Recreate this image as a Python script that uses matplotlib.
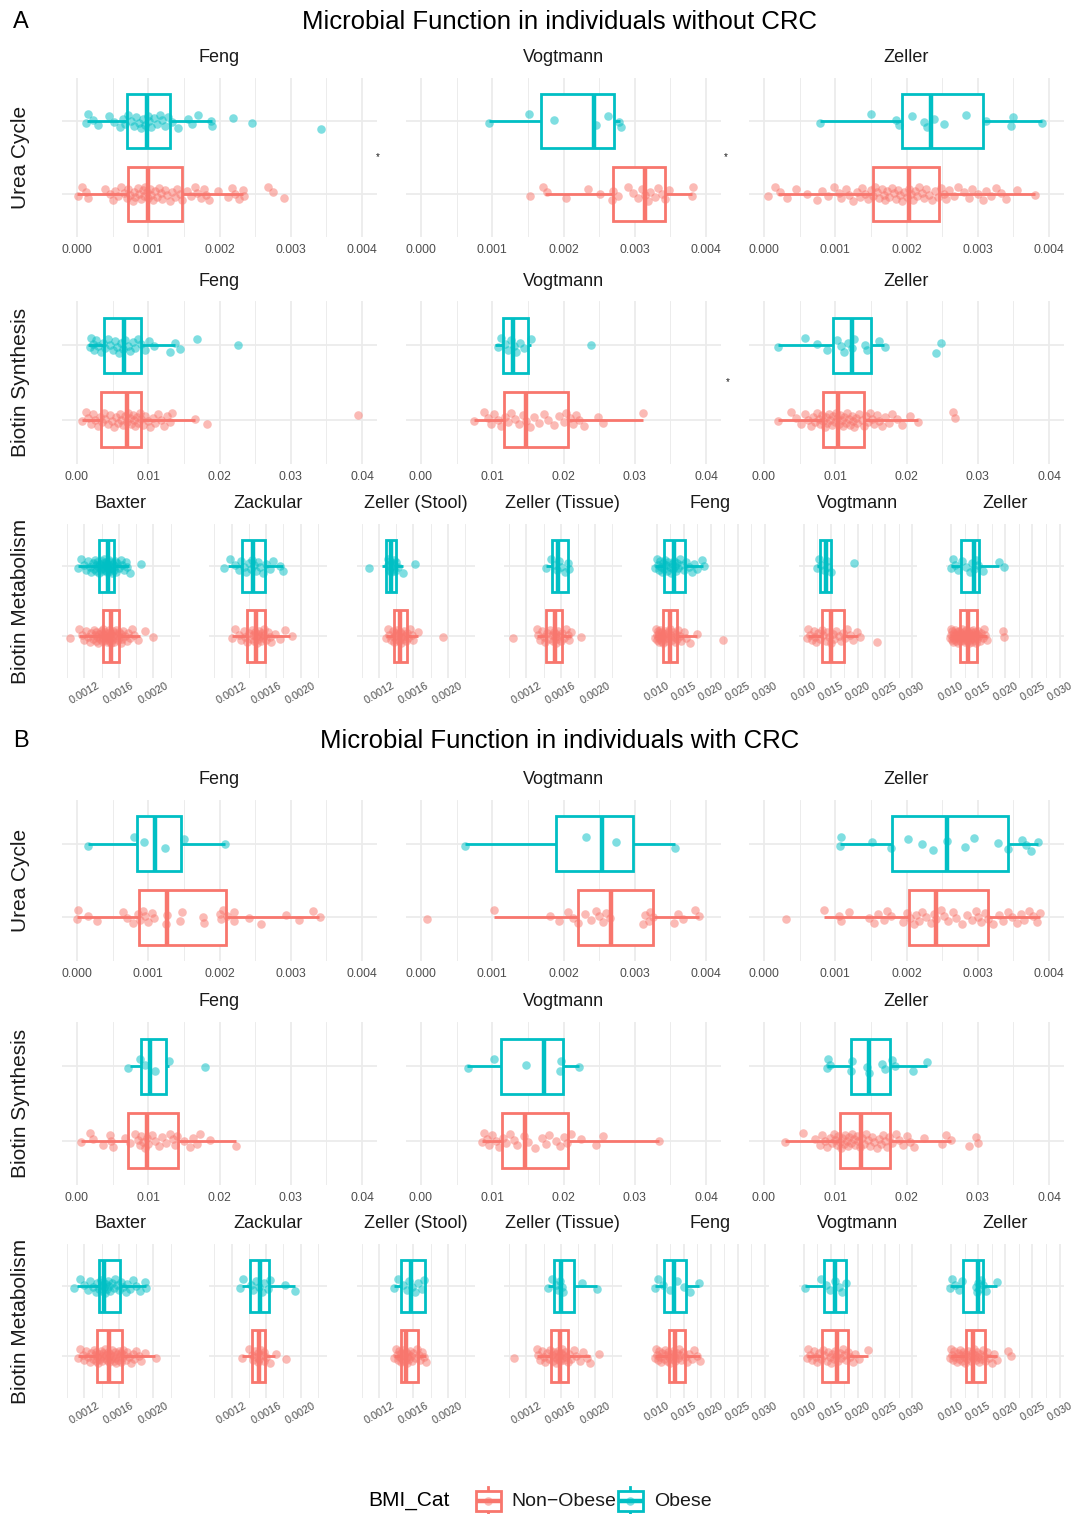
import numpy as np
import matplotlib
matplotlib.use("Agg")
import matplotlib.pyplot as plt
from matplotlib.patches import Rectangle
from matplotlib.lines import Line2D

plt.rcParams['font.family'] = ['Liberation Sans', 'DejaVu Sans']

RED = '#F8766D'
TEAL = '#00BFC4'
GRID = '#EBEBEB'
TICKC = '#4D4D4D'
TXT = '#1A1A1A'

# ---------------- labels / categories ----------------
PANEL_TITLES = ['Microbial Function in individuals without CRC',
                'Microbial Function in individuals with CRC']
PANEL_TAGS = ['A', 'B']
ROW_NAMES = ['Urea Cycle', 'Biotin Synthesis', 'Biotin Metabolism']
FACETS_3 = ['Feng', 'Vogtmann', 'Zeller']
FACETS_7 = ['Baxter', 'Zackular', 'Zeller (Stool)', 'Zeller (Tissue)', 'Feng', 'Vogtmann', 'Zeller']
GROUPS = ['Non\u2212Obese', 'Obese']
LEGEND_TITLE = 'BMI_Cat'

UREA_TICKS = [0.000, 0.001, 0.002, 0.003, 0.004]
UREA_LABELS = ['0.000', '0.001', '0.002', '0.003', '0.004']
BS_TICKS = [0.00, 0.01, 0.02, 0.03, 0.04]
BS_LABELS = ['0.00', '0.01', '0.02', '0.03', '0.04']
BM_L_TICKS = [0.0012, 0.0016, 0.0020]
BM_L_LABELS = ['0.0012', '0.0016', '0.0020']
BM_R_TICKS = [0.010, 0.015, 0.020, 0.025, 0.030]
BM_R_LABELS = ['0.010', '0.015', '0.020', '0.025', '0.030']

# ---------------- data: box stats [whislo, q1, median, q3, whishi] + points ----------------
# ===== A: without CRC =====
# Urea cycle
A_UC_FENG_OB = [0.00013, 0.00016, 0.00022, 0.0003, 0.00045, 0.00052, 0.0006, 0.00064, 0.00068, 0.00072, 0.00076,
                0.0008, 0.00083, 0.00087, 0.0009, 0.00093, 0.00096, 0.00099, 0.00101, 0.00104, 0.00108, 0.00112,
                0.00116, 0.0012, 0.00124, 0.00128, 0.00134, 0.00142, 0.00156, 0.00162, 0.0017, 0.00188, 0.0019,
                0.00219, 0.00245, 0.00343]
A_UC_FENG_OB_BOX = [0.000145, 0.000696, 0.000986, 0.0013, 0.00189]
A_UC_FENG_NO = [0.00002, 0.00007, 0.00012, 0.00016, 0.0004, 0.00046, 0.0005, 0.00054, 0.00058, 0.00062, 0.00066,
                0.0007, 0.00072, 0.00075, 0.00078, 0.0008, 0.00082, 0.00085, 0.00087, 0.0009, 0.00092, 0.00094,
                0.00096, 0.00098, 0.001, 0.00102, 0.00104, 0.00106, 0.00109, 0.00112, 0.00115, 0.00118, 0.0012,
                0.00123, 0.00126, 0.0013, 0.00133, 0.00137, 0.0014, 0.00144, 0.00148, 0.00155, 0.0016, 0.00165,
                0.00169, 0.00174, 0.00178, 0.00181, 0.00185, 0.00198, 0.00212, 0.00217, 0.00222, 0.00228, 0.00233,
                0.00234, 0.00268, 0.00275, 0.0029]
A_UC_FENG_NO_BOX = [0.0, 0.00072, 0.001, 0.00148, 0.00233]
A_UC_VOGT_OB = [0.00095, 0.00151, 0.00186, 0.00245, 0.00263, 0.00278, 0.0028]
A_UC_VOGT_OB_BOX = [0.00095, 0.00168, 0.00243, 0.00271, 0.00279]
A_UC_VOGT_NO = [0.00153, 0.00171, 0.00177, 0.00203, 0.00235, 0.00251, 0.00268, 0.0027, 0.00276, 0.0029, 0.00298,
                0.00304, 0.0031, 0.00314, 0.00318, 0.00322, 0.00328, 0.00333, 0.00338, 0.00343, 0.00348, 0.0038,
                0.00382]
A_UC_VOGT_NO_BOX = [0.00174, 0.00269, 0.00314, 0.00342, 0.00381]
A_UC_ZELL_OB = [0.00078, 0.0015, 0.00185, 0.0019, 0.00208, 0.00225, 0.00229, 0.00238, 0.00253, 0.00284, 0.00312,
                0.00346, 0.00349, 0.0039]
A_UC_ZELL_OB_BOX = [0.00078, 0.00193, 0.00235, 0.00307, 0.0039]
A_UC_ZELL_NO = [0.00005, 0.00015, 0.00022, 0.00032, 0.00045, 0.0006, 0.00075, 0.00082, 0.0009, 0.00098, 0.00105,
                0.00108, 0.00115, 0.0012, 0.00125, 0.0013, 0.00135, 0.00138, 0.00142, 0.00146, 0.0015, 0.00153,
                0.00156, 0.00159, 0.00162, 0.00165, 0.00168, 0.0017, 0.00173, 0.00176, 0.00179, 0.00182, 0.00185,
                0.00188, 0.00191, 0.00194, 0.00197, 0.002, 0.00203, 0.00206, 0.00209, 0.00212, 0.00215, 0.00218,
                0.00222, 0.00225, 0.00228, 0.00232, 0.00236, 0.0024, 0.00244, 0.00248, 0.00252, 0.00256, 0.0026,
                0.00266, 0.00272, 0.0028, 0.00287, 0.00292, 0.003, 0.00308, 0.00312, 0.00318, 0.00325, 0.00332,
                0.0034, 0.00355, 0.0038]
A_UC_ZELL_NO_BOX = [0.0002, 0.00153, 0.00203, 0.00246, 0.00381]

# Biotin synthesis
A_BS_FENG_OB = [0.0018, 0.002, 0.0022, 0.0024, 0.0027, 0.003, 0.0034, 0.0037, 0.004, 0.0043, 0.0047, 0.005, 0.0053,
                0.0056, 0.0059, 0.0062, 0.0065, 0.0068, 0.0071, 0.0074, 0.0078, 0.0082, 0.0086, 0.009, 0.0095,
                0.0101, 0.0108, 0.013, 0.0138, 0.0145, 0.0168, 0.0226]
A_BS_FENG_OB_BOX = [0.0016, 0.00375, 0.00654, 0.00904, 0.0138]
A_BS_FENG_NO = [0.0007, 0.0012, 0.0016, 0.002, 0.0023, 0.0026, 0.0029, 0.0032, 0.0035, 0.0038, 0.004, 0.0043,
                0.0046, 0.0049, 0.0052, 0.0055, 0.0058, 0.006, 0.0062, 0.0065, 0.0068, 0.007, 0.0072, 0.0074,
                0.0076, 0.0078, 0.008, 0.0082, 0.0084, 0.0086, 0.0088, 0.009, 0.0093, 0.0096, 0.0099, 0.0103,
                0.0107, 0.011, 0.0114, 0.0118, 0.0122, 0.0127, 0.013, 0.0133, 0.0166, 0.0183, 0.0394]
A_BS_FENG_NO_BOX = [0.0007, 0.00337, 0.00702, 0.00904, 0.0166]
A_BS_VOGT_OB = [0.0108, 0.0113, 0.0118, 0.0122, 0.0126, 0.013, 0.0134, 0.0139, 0.0145, 0.0155, 0.0238]
A_BS_VOGT_OB_BOX = [0.0104, 0.01154, 0.01288, 0.01505, 0.0155]
A_BS_VOGT_NO = [0.0075, 0.0088, 0.0094, 0.0098, 0.0103, 0.0108, 0.0113, 0.0118, 0.0122, 0.0127, 0.0132, 0.0138,
                0.0143, 0.0148, 0.0153, 0.0158, 0.0165, 0.0172, 0.0178, 0.0186, 0.0194, 0.02, 0.0204, 0.0209,
                0.0213, 0.0218, 0.0222, 0.0229, 0.0249, 0.0256, 0.0311]
A_BS_VOGT_NO_BOX = [0.0075, 0.01168, 0.0148, 0.0207, 0.0311]
A_BS_ZELL_OB = [0.002, 0.0058, 0.0075, 0.0088, 0.0103, 0.0108, 0.0113, 0.0118, 0.0123, 0.0126, 0.0142, 0.0145,
                0.0162, 0.017, 0.0241, 0.0248]
A_BS_ZELL_OB_BOX = [0.002, 0.00972, 0.01231, 0.01495, 0.0169]
A_BS_ZELL_NO = [0.002, 0.0038, 0.0045, 0.0052, 0.0058, 0.0062, 0.0066, 0.0069, 0.0072, 0.0075, 0.0077, 0.0079,
                0.0081, 0.0083, 0.0085, 0.0087, 0.0089, 0.0091, 0.0093, 0.0095, 0.0097, 0.0099, 0.0101, 0.0103,
                0.0105, 0.0107, 0.0109, 0.0111, 0.0113, 0.0115, 0.0117, 0.0119, 0.0121, 0.0123, 0.0125, 0.0127,
                0.0129, 0.0131, 0.0134, 0.0137, 0.014, 0.0143, 0.0146, 0.0149, 0.0152, 0.0155, 0.0158, 0.0162,
                0.0166, 0.017, 0.0175, 0.018, 0.0186, 0.0193, 0.0205, 0.0216, 0.0265, 0.0268]
A_BS_ZELL_NO_BOX = [0.002, 0.00829, 0.01044, 0.014, 0.0216]

# Biotin metabolism
A_BM_BAXT_OB = [0.00112, 0.00116, 0.0012, 0.00122, 0.00124, 0.00126, 0.00128, 0.0013, 0.00131, 0.00132, 0.00133,
                0.00134, 0.00135, 0.00136, 0.00137, 0.00138, 0.00139, 0.0014, 0.0014, 0.00141, 0.00142, 0.00142,
                0.00143, 0.00144, 0.00144, 0.00145, 0.00146, 0.00146, 0.00147, 0.00148, 0.00148, 0.00149, 0.0015,
                0.0015, 0.00151, 0.00152, 0.00153, 0.00154, 0.00155, 0.00156, 0.00157, 0.00158, 0.0016, 0.00162,
                0.00164, 0.00166, 0.00168, 0.0017, 0.00173, 0.00186]
A_BM_BAXT_OB_BOX = [0.00112, 0.00137, 0.00147, 0.00154, 0.00172]
A_BM_BAXT_NO = [0.00103, 0.00114, 0.00117, 0.0012, 0.00122, 0.00124, 0.00126, 0.00128, 0.0013, 0.00131, 0.00132,
                0.00133, 0.00134, 0.00135, 0.00136, 0.00137, 0.00138, 0.00139, 0.0014, 0.0014, 0.00141, 0.00142,
                0.00142, 0.00143, 0.00144, 0.00144, 0.00145, 0.00146, 0.00146, 0.00147, 0.00148, 0.00148, 0.00149,
                0.0015, 0.0015, 0.00151, 0.00151, 0.00152, 0.00153, 0.00153, 0.00154, 0.00155, 0.00156, 0.00157,
                0.00158, 0.00159, 0.0016, 0.00161, 0.00162, 0.00163, 0.00164, 0.00165, 0.00167, 0.00169, 0.00171,
                0.00173, 0.00175, 0.00178, 0.00182, 0.0019, 0.002]
A_BM_BAXT_NO_BOX = [0.00114, 0.00142, 0.00151, 0.0016, 0.00184]
A_BM_ZACK_OB = [0.00111, 0.00118, 0.00124, 0.00128, 0.00131, 0.00134, 0.00137, 0.0014, 0.00142, 0.00144, 0.00146,
                0.00148, 0.0015, 0.00153, 0.00156, 0.0016, 0.00164, 0.00168, 0.00176, 0.0018]
A_BM_ZACK_OB_BOX = [0.00116, 0.00132, 0.00145, 0.00159, 0.0018]
A_BM_ZACK_NO = [0.0012, 0.00124, 0.00128, 0.00131, 0.00134, 0.00136, 0.00138, 0.0014, 0.00142, 0.00144, 0.00145,
                0.00146, 0.00147, 0.00148, 0.00149, 0.0015, 0.00151, 0.00152, 0.00153, 0.00154, 0.00155, 0.00156,
                0.00157, 0.00158, 0.0016, 0.00162, 0.00164, 0.00166, 0.0017, 0.00176, 0.00182, 0.0019]
A_BM_ZACK_NO_BOX = [0.0012, 0.00138, 0.00148, 0.00159, 0.00188]
A_BM_ZSTO_OB = [0.00108, 0.0013, 0.00131, 0.00132, 0.00133, 0.00134, 0.00134, 0.00135, 0.00136, 0.00137, 0.00138,
                0.00139, 0.0014, 0.00142, 0.00148, 0.00162]
A_BM_ZSTO_OB_BOX = [0.00124, 0.00128, 0.00134, 0.0014, 0.00148]
A_BM_ZSTO_NO = [0.00128, 0.0013, 0.00132, 0.00134, 0.00136, 0.00137, 0.00138, 0.00139, 0.0014, 0.00141, 0.00142,
                0.00143, 0.00144, 0.00145, 0.00146, 0.00147, 0.00148, 0.00149, 0.0015, 0.00151, 0.00152, 0.00154,
                0.00156, 0.00158, 0.0016, 0.00165, 0.00194]
A_BM_ZSTO_NO_BOX = [0.00128, 0.00138, 0.00144, 0.00153, 0.00165]
A_BM_ZTIS_OB = [0.00143, 0.00149, 0.00153, 0.00156, 0.00158, 0.0016, 0.00165, 0.00168, 0.0017]
A_BM_ZTIS_OB_BOX = [0.00143, 0.0015, 0.00157, 0.00169, 0.0017]
A_BM_ZTIS_NO = [0.00104, 0.00132, 0.00134, 0.00136, 0.00138, 0.0014, 0.00142, 0.00144, 0.00146, 0.00148, 0.0015,
                0.00151, 0.00152, 0.00153, 0.00154, 0.00155, 0.00156, 0.00157, 0.00158, 0.0016, 0.00162, 0.00164,
                0.00166, 0.00168, 0.0017, 0.00172, 0.00183]
A_BM_ZTIS_NO_BOX = [0.00132, 0.00143, 0.00153, 0.00161, 0.00172]
A_BM_FENG_OB = [0.0098, 0.01, 0.0102, 0.0104, 0.0106, 0.0108, 0.011, 0.0112, 0.0114, 0.0116, 0.0118, 0.012, 0.0122,
                0.0124, 0.0126, 0.0128, 0.013, 0.0132, 0.0134, 0.0136, 0.0138, 0.014, 0.0143, 0.0146, 0.015, 0.0155,
                0.016, 0.0165, 0.017, 0.0175, 0.0184, 0.0188]
A_BM_FENG_OB_BOX = [0.0098, 0.0114, 0.0133, 0.0152, 0.0186]
A_BM_FENG_NO = [0.0098, 0.0099, 0.01, 0.0101, 0.0102, 0.0103, 0.0104, 0.0105, 0.0106, 0.0107, 0.0108, 0.0109,
                0.011, 0.0111, 0.0112, 0.0113, 0.0114, 0.0115, 0.0116, 0.0118, 0.012, 0.0122, 0.0124, 0.0126,
                0.0128, 0.013, 0.0132, 0.0134, 0.0136, 0.0138, 0.014, 0.0143, 0.0146, 0.015, 0.0155, 0.0162,
                0.0175, 0.0222]
A_BM_FENG_NO_BOX = [0.0098, 0.0112, 0.0124, 0.0138, 0.0175]
A_BM_VOGT_OB = [0.0125, 0.0128, 0.0132, 0.0138, 0.0142, 0.0145, 0.015, 0.0192]
A_BM_VOGT_OB_BOX = [0.0125, 0.013, 0.0141, 0.0151, 0.0151]
A_BM_VOGT_NO = [0.0105, 0.0108, 0.0112, 0.0115, 0.0118, 0.012, 0.0123, 0.0127, 0.013, 0.0133, 0.0136, 0.014,
                0.0143, 0.0146, 0.015, 0.0153, 0.0156, 0.016, 0.0164, 0.0168, 0.0172, 0.0176, 0.018, 0.0185,
                0.019, 0.0198, 0.0203, 0.0235]
A_BM_VOGT_NO_BOX = [0.0107, 0.0134, 0.0151, 0.0174, 0.02]
A_BM_ZELL_OB = [0.01, 0.0104, 0.0108, 0.0112, 0.012, 0.0128, 0.0134, 0.0139, 0.0143, 0.0146, 0.015, 0.0158,
                0.0189, 0.0197]
A_BM_ZELL_OB_BOX = [0.01, 0.0118, 0.0143, 0.0151, 0.0189]
A_BM_ZELL_NO = [0.0098, 0.0099, 0.01, 0.0101, 0.0102, 0.0103, 0.0104, 0.0105, 0.0106, 0.0107, 0.0108, 0.0109,
                0.011, 0.0111, 0.0112, 0.0113, 0.0114, 0.0115, 0.0116, 0.0117, 0.0118, 0.0119, 0.012, 0.0121,
                0.0122, 0.0123, 0.0124, 0.0125, 0.0126, 0.0127, 0.0128, 0.0129, 0.013, 0.0131, 0.0132, 0.0133,
                0.0134, 0.0135, 0.0136, 0.0137, 0.0138, 0.0139, 0.014, 0.0141, 0.0142, 0.0143, 0.0144, 0.0145,
                0.0146, 0.0147, 0.0148, 0.015, 0.0152, 0.0154, 0.0156, 0.0158, 0.016, 0.0163, 0.0166, 0.0195,
                0.0198]
A_BM_ZELL_NO_BOX = [0.0098, 0.0116, 0.0131, 0.0148, 0.0166]

# ===== B: with CRC =====
B_UC_FENG_OB = [0.00016, 0.0008, 0.00094, 0.00123, 0.0015, 0.00208]
B_UC_FENG_OB_BOX = [0.00016, 0.00084, 0.00109, 0.00146, 0.00208]
B_UC_FENG_NO = [0.0, 0.00002, 0.00015, 0.00028, 0.00065, 0.0007, 0.00078, 0.00085, 0.00088, 0.00092, 0.00095,
                0.001, 0.00105, 0.00108, 0.00125, 0.00127, 0.00145, 0.00147, 0.00177, 0.00178, 0.002, 0.00202,
                0.00205, 0.0021, 0.0022, 0.00221, 0.00242, 0.00258, 0.00293, 0.00311, 0.00331, 0.00341]
B_UC_FENG_NO_BOX = [0.0, 0.00087, 0.00126, 0.00209, 0.0034]
B_UC_VOGT_OB = [0.00062, 0.00232, 0.00274, 0.00356]
B_UC_VOGT_OB_BOX = [0.00062, 0.0019, 0.00254, 0.00297, 0.00357]
B_UC_VOGT_NO = [0.00009, 0.00103, 0.00181, 0.00193, 0.00207, 0.00213, 0.0022, 0.0023, 0.00238, 0.00245, 0.0025,
                0.00256, 0.0026, 0.00265, 0.00311, 0.00315, 0.0032, 0.00322, 0.00325, 0.00355, 0.0036, 0.00368,
                0.00385, 0.0039]
B_UC_VOGT_NO_BOX = [0.00103, 0.0022, 0.00266, 0.00325, 0.0039]
B_UC_ZELL_OB = [0.00107, 0.00108, 0.00151, 0.00178, 0.00202, 0.00222, 0.00237, 0.00257, 0.00282, 0.00295, 0.00328,
                0.00342, 0.00362, 0.00368, 0.00375, 0.00385]
B_UC_ZELL_OB_BOX = [0.00107, 0.00179, 0.00257, 0.00342, 0.00385]
B_UC_ZELL_NO = [0.00031, 0.00084, 0.00105, 0.00108, 0.0012, 0.00148, 0.00155, 0.0016, 0.00168, 0.00172, 0.00178,
                0.00195, 0.002, 0.00205, 0.0021, 0.00213, 0.00218, 0.00222, 0.00228, 0.00235, 0.00238, 0.00242,
                0.00248, 0.00253, 0.00258, 0.00265, 0.0027, 0.00278, 0.00285, 0.00292, 0.00298, 0.003, 0.00305,
                0.0031, 0.00315, 0.00322, 0.0033, 0.00335, 0.00342, 0.00348, 0.00355, 0.0036, 0.00365, 0.00372,
                0.00378, 0.00383, 0.00388]
B_UC_ZELL_NO_BOX = [0.00084, 0.00203, 0.00242, 0.00315, 0.00388]

B_BS_FENG_OB = [0.0072, 0.0088, 0.0095, 0.011, 0.0129, 0.0179]
B_BS_FENG_OB_BOX = [0.0074, 0.00894, 0.01024, 0.0125, 0.0129]
B_BS_FENG_NO = [0.0006, 0.0018, 0.0023, 0.0036, 0.0046, 0.0048, 0.005, 0.0068, 0.0075, 0.0082, 0.0085, 0.0088,
                0.009, 0.0093, 0.0095, 0.0098, 0.01, 0.0105, 0.011, 0.0115, 0.012, 0.0125, 0.013, 0.0135, 0.0138,
                0.014, 0.015, 0.0158, 0.0163, 0.0168, 0.0172, 0.0187, 0.0223]
B_BS_FENG_NO_BOX = [0.0006, 0.0072, 0.00986, 0.01423, 0.0223]
B_BS_VOGT_OB = [0.0066, 0.0102, 0.0148, 0.0195, 0.0197, 0.0222]
B_BS_VOGT_OB_BOX = [0.0064, 0.0112, 0.0172, 0.0199, 0.0222]
B_BS_VOGT_NO = [0.0085, 0.0088, 0.0092, 0.0095, 0.01, 0.0105, 0.011, 0.0115, 0.012, 0.0125, 0.013, 0.0135,
                0.0145, 0.015, 0.016, 0.017, 0.0175, 0.018, 0.019, 0.0195, 0.02, 0.0205, 0.021, 0.0225, 0.0245,
                0.0255, 0.0334]
B_BS_VOGT_NO_BOX = [0.0085, 0.01135, 0.01466, 0.0206, 0.0334]
B_BS_ZELL_OB = [0.0088, 0.009, 0.0092, 0.0122, 0.0124, 0.0145, 0.0148, 0.0165, 0.017, 0.018, 0.0184, 0.0209,
                0.0229]
B_BS_ZELL_OB_BOX = [0.0089, 0.01226, 0.01476, 0.01764, 0.0229]
B_BS_ZELL_NO = [0.0029, 0.0055, 0.0072, 0.0078, 0.0082, 0.0086, 0.0089, 0.0092, 0.0095, 0.0098, 0.01, 0.0102,
                0.0104, 0.0106, 0.0108, 0.011, 0.0112, 0.0114, 0.0116, 0.0118, 0.012, 0.0122, 0.0124, 0.0126,
                0.0128, 0.013, 0.0132, 0.0135, 0.0138, 0.014, 0.0143, 0.0146, 0.0149, 0.0152, 0.0155, 0.0158,
                0.0161, 0.0164, 0.0167, 0.017, 0.0173, 0.0176, 0.018, 0.0185, 0.019, 0.0195, 0.02, 0.0205, 0.021,
                0.0225, 0.025, 0.0255, 0.0262, 0.0287, 0.0298, 0.0301]
B_BS_ZELL_NO_BOX = [0.0029, 0.0107, 0.01357, 0.01764, 0.0262]

B_BM_BAXT_OB = [0.00108, 0.00115, 0.0012, 0.00124, 0.00127, 0.0013, 0.00133, 0.00135, 0.00137, 0.00139, 0.0014,
                0.00141, 0.00142, 0.00143, 0.00144, 0.00145, 0.00146, 0.00147, 0.00148, 0.0015, 0.00152, 0.00154,
                0.00156, 0.00158, 0.0016, 0.00162, 0.00165, 0.00168, 0.0017, 0.00173, 0.00176, 0.0018, 0.00185,
                0.0019, 0.00192]
B_BM_BAXT_OB_BOX = [0.00111, 0.00137, 0.00143, 0.00161, 0.00192]
B_BM_BAXT_NO = [0.00112, 0.00115, 0.00118, 0.0012, 0.00122, 0.00124, 0.00126, 0.00128, 0.0013, 0.00131, 0.00132,
                0.00133, 0.00134, 0.00135, 0.00136, 0.00137, 0.00138, 0.00139, 0.0014, 0.00141, 0.00142, 0.00143,
                0.00144, 0.00145, 0.00146, 0.00147, 0.00148, 0.00149, 0.0015, 0.00151, 0.00152, 0.00153, 0.00154,
                0.00155, 0.00156, 0.00157, 0.00158, 0.00159, 0.0016, 0.00161, 0.00162, 0.00163, 0.00164, 0.00165,
                0.00166, 0.00168, 0.0017, 0.00172, 0.00174, 0.00176, 0.00178, 0.0018, 0.00183, 0.00186, 0.0019,
                0.00203]
B_BM_BAXT_NO_BOX = [0.00112, 0.00135, 0.00149, 0.00164, 0.00202]
B_BM_ZACK_OB = [0.0013, 0.00133, 0.00142, 0.00145, 0.00148, 0.00152, 0.00155, 0.00158, 0.00162, 0.00165, 0.00182,
                0.00193]
B_BM_ZACK_OB_BOX = [0.00132, 0.00141, 0.00153, 0.00163, 0.00193]
B_BM_ZACK_NO = [0.00132, 0.0014, 0.00143, 0.00145, 0.00147, 0.00148, 0.0015, 0.00151, 0.00152, 0.00154, 0.00155,
                0.00157, 0.00158, 0.0016, 0.00164, 0.00172, 0.00183]
B_BM_ZACK_NO_BOX = [0.00132, 0.00144, 0.00152, 0.00159, 0.0017]
B_BM_ZSTO_OB = [0.00138, 0.00142, 0.00148, 0.00152, 0.00155, 0.00158, 0.00162, 0.00165, 0.0017, 0.00172]
B_BM_ZSTO_OB_BOX = [0.00138, 0.00146, 0.00157, 0.00173, 0.00173]
B_BM_ZSTO_NO = [0.00138, 0.0014, 0.00141, 0.00142, 0.00143, 0.00144, 0.00145, 0.00146, 0.00147, 0.00148, 0.00149,
                0.0015, 0.00151, 0.00152, 0.00153, 0.00154, 0.00155, 0.00156, 0.00157, 0.00158, 0.0016, 0.00162,
                0.00164, 0.00166, 0.00168, 0.0017, 0.00172, 0.00175]
B_BM_ZSTO_NO_BOX = [0.00138, 0.00145, 0.00151, 0.00165, 0.00175]
B_BM_ZTIS_OB = [0.00145, 0.0015, 0.00154, 0.00157, 0.00159, 0.00161, 0.00163, 0.00185, 0.00202]
B_BM_ZTIS_OB_BOX = [0.00145, 0.00152, 0.0016, 0.00175, 0.00202]
B_BM_ZTIS_NO = [0.00106, 0.00132, 0.00134, 0.00136, 0.00138, 0.0014, 0.00142, 0.00144, 0.00146, 0.00148, 0.0015,
                0.00151, 0.00152, 0.00153, 0.00154, 0.00155, 0.00156, 0.00157, 0.00158, 0.00159, 0.0016, 0.00161,
                0.00162, 0.00163, 0.00164, 0.00165, 0.00166, 0.00168, 0.0017, 0.00172, 0.00175, 0.00178, 0.00182,
                0.00186, 0.0019, 0.00194, 0.00204]
B_BM_ZTIS_NO_BOX = [0.00132, 0.00149, 0.00159, 0.00169, 0.00194]
B_BM_FENG_OB = [0.0098, 0.0102, 0.0112, 0.0125, 0.0138, 0.015, 0.0162, 0.0178]
B_BM_FENG_OB_BOX = [0.0098, 0.0114, 0.0133, 0.0154, 0.0179]
B_BM_FENG_NO = [0.0097, 0.0099, 0.0101, 0.0103, 0.0105, 0.0107, 0.0109, 0.0111, 0.0113, 0.0115, 0.0117, 0.0119,
                0.0121, 0.0123, 0.0125, 0.0127, 0.0129, 0.0131, 0.0133, 0.0135, 0.0137, 0.0139, 0.0141, 0.0143,
                0.0146, 0.0149, 0.0152, 0.0156, 0.016, 0.0165, 0.017, 0.0175, 0.018]
B_BM_FENG_NO_BOX = [0.0097, 0.0123, 0.0134, 0.0152, 0.018]
B_BM_VOGT_OB = [0.0102, 0.0132, 0.014, 0.0148, 0.0158, 0.0165, 0.017, 0.0178]
B_BM_VOGT_OB_BOX = [0.0102, 0.0137, 0.0158, 0.0177, 0.0178]
B_BM_VOGT_NO = [0.0105, 0.0108, 0.0112, 0.0115, 0.0118, 0.0122, 0.0125, 0.0128, 0.0132, 0.0135, 0.0138, 0.0142,
                0.0145, 0.0148, 0.015, 0.0152, 0.0155, 0.0158, 0.016, 0.0163, 0.0166, 0.0169, 0.0172, 0.0175,
                0.0178, 0.0182, 0.0186, 0.019, 0.0195, 0.0202, 0.0219]
B_BM_VOGT_NO_BOX = [0.0106, 0.0134, 0.0161, 0.0181, 0.0219]
B_BM_ZELL_OB = [0.0098, 0.0102, 0.0108, 0.0115, 0.012, 0.0145, 0.0148, 0.015, 0.0152, 0.0155, 0.0158, 0.0165,
                0.0185]
B_BM_ZELL_OB_BOX = [0.0098, 0.0121, 0.0149, 0.0158, 0.0185]
B_BM_ZELL_NO = [0.0098, 0.01, 0.0102, 0.0104, 0.0106, 0.0108, 0.011, 0.0112, 0.0114, 0.0116, 0.0118, 0.012,
                0.0122, 0.0124, 0.0126, 0.0128, 0.013, 0.0132, 0.0134, 0.0136, 0.0138, 0.014, 0.0142, 0.0144,
                0.0146, 0.0148, 0.015, 0.0152, 0.0154, 0.0156, 0.0158, 0.016, 0.0163, 0.0166, 0.017, 0.0175,
                0.018, 0.0185, 0.0205, 0.021]
B_BM_ZELL_NO_BOX = [0.0098, 0.0127, 0.0141, 0.0162, 0.0185]

# significance marks: (panel, row, facet index, x value)
SIG_MARKS = [('A', 0, 0, 0.004225), ('A', 0, 1, 0.00428), ('A', 1, 1, 0.0431)]

# ---------------- assemble ----------------
PANELS = {
    'A': [
        [(A_UC_FENG_NO, A_UC_FENG_NO_BOX, A_UC_FENG_OB, A_UC_FENG_OB_BOX),
         (A_UC_VOGT_NO, A_UC_VOGT_NO_BOX, A_UC_VOGT_OB, A_UC_VOGT_OB_BOX),
         (A_UC_ZELL_NO, A_UC_ZELL_NO_BOX, A_UC_ZELL_OB, A_UC_ZELL_OB_BOX)],
        [(A_BS_FENG_NO, A_BS_FENG_NO_BOX, A_BS_FENG_OB, A_BS_FENG_OB_BOX),
         (A_BS_VOGT_NO, A_BS_VOGT_NO_BOX, A_BS_VOGT_OB, A_BS_VOGT_OB_BOX),
         (A_BS_ZELL_NO, A_BS_ZELL_NO_BOX, A_BS_ZELL_OB, A_BS_ZELL_OB_BOX)],
        [(A_BM_BAXT_NO, A_BM_BAXT_NO_BOX, A_BM_BAXT_OB, A_BM_BAXT_OB_BOX),
         (A_BM_ZACK_NO, A_BM_ZACK_NO_BOX, A_BM_ZACK_OB, A_BM_ZACK_OB_BOX),
         (A_BM_ZSTO_NO, A_BM_ZSTO_NO_BOX, A_BM_ZSTO_OB, A_BM_ZSTO_OB_BOX),
         (A_BM_ZTIS_NO, A_BM_ZTIS_NO_BOX, A_BM_ZTIS_OB, A_BM_ZTIS_OB_BOX),
         (A_BM_FENG_NO, A_BM_FENG_NO_BOX, A_BM_FENG_OB, A_BM_FENG_OB_BOX),
         (A_BM_VOGT_NO, A_BM_VOGT_NO_BOX, A_BM_VOGT_OB, A_BM_VOGT_OB_BOX),
         (A_BM_ZELL_NO, A_BM_ZELL_NO_BOX, A_BM_ZELL_OB, A_BM_ZELL_OB_BOX)],
    ],
    'B': [
        [(B_UC_FENG_NO, B_UC_FENG_NO_BOX, B_UC_FENG_OB, B_UC_FENG_OB_BOX),
         (B_UC_VOGT_NO, B_UC_VOGT_NO_BOX, B_UC_VOGT_OB, B_UC_VOGT_OB_BOX),
         (B_UC_ZELL_NO, B_UC_ZELL_NO_BOX, B_UC_ZELL_OB, B_UC_ZELL_OB_BOX)],
        [(B_BS_FENG_NO, B_BS_FENG_NO_BOX, B_BS_FENG_OB, B_BS_FENG_OB_BOX),
         (B_BS_VOGT_NO, B_BS_VOGT_NO_BOX, B_BS_VOGT_OB, B_BS_VOGT_OB_BOX),
         (B_BS_ZELL_NO, B_BS_ZELL_NO_BOX, B_BS_ZELL_OB, B_BS_ZELL_OB_BOX)],
        [(B_BM_BAXT_NO, B_BM_BAXT_NO_BOX, B_BM_BAXT_OB, B_BM_BAXT_OB_BOX),
         (B_BM_ZACK_NO, B_BM_ZACK_NO_BOX, B_BM_ZACK_OB, B_BM_ZACK_OB_BOX),
         (B_BM_ZSTO_NO, B_BM_ZSTO_NO_BOX, B_BM_ZSTO_OB, B_BM_ZSTO_OB_BOX),
         (B_BM_ZTIS_NO, B_BM_ZTIS_NO_BOX, B_BM_ZTIS_OB, B_BM_ZTIS_OB_BOX),
         (B_BM_FENG_NO, B_BM_FENG_NO_BOX, B_BM_FENG_OB, B_BM_FENG_OB_BOX),
         (B_BM_VOGT_NO, B_BM_VOGT_NO_BOX, B_BM_VOGT_OB, B_BM_VOGT_OB_BOX),
         (B_BM_ZELL_NO, B_BM_ZELL_NO_BOX, B_BM_ZELL_OB, B_BM_ZELL_OB_BOX)],
    ],
}

# ---------------- layout (pixels) ----------------
W, H = 1077, 1514
fig = plt.figure(figsize=(W / 100, H / 100), dpi=100)
fig.patch.set_facecolor('white')

ROW_Y = {'A': [(78, 237), (301, 464), (524, 678)],
         'B': [(800, 961), (1022, 1185), (1244, 1398)]}
TITLE_Y = {'A': 22, 'B': 741}
COLS3 = [(62, 377), (406, 721), (749, 1064)]
COLS7 = [(62 + i * 147.3, 62 + i * 147.3 + 118) for i in range(7)]

BOX_LW = 2.0
MED_LW = 3.2
PT_SIZE = 38
PT_ALPHA = 0.5


def add_ax(x0, y0, x1, y1):
    return fig.add_axes([x0 / W, 1 - y1 / H, (x1 - x0) / W, (y1 - y0) / H])


def jitter(n, h=0.1):
    k = np.arange(n)
    return (((k * 0.6180339887 + 0.37) % 1.0) - 0.5) * 2 * h


def draw_group(ax, vals, stats, pos, color):
    st = dict(whislo=stats[0], q1=stats[1], med=stats[2], q3=stats[3], whishi=stats[4], fliers=[])
    kw = dict(positions=[pos], widths=0.75, patch_artist=True, showcaps=False, showfliers=False,
              manage_ticks=False,
              boxprops=dict(facecolor='white', edgecolor=color, linewidth=BOX_LW),
              whiskerprops=dict(color=color, linewidth=BOX_LW, solid_capstyle='butt'),
              medianprops=dict(color=color, linewidth=MED_LW, solid_capstyle='butt'))
    try:
        ax.bxp([st], orientation='horizontal', **kw)
    except TypeError:
        ax.bxp([st], vert=False, **kw)
    ax.scatter(vals, pos + jitter(len(vals)), s=PT_SIZE, color=color, alpha=PT_ALPHA,
               linewidths=0, zorder=4)


def style_ax(ax, major, labels, rotate=False):
    ax.set_xticks(major)
    step = major[1] - major[0]
    minor = [major[0] - step / 2] + [m + step / 2 for m in major]
    ax.set_xticks(minor, minor=True)
    ax.set_yticks([1, 2])
    ax.set_yticklabels([])
    ax.grid(which='major', color=GRID, linewidth=1.25)
    ax.grid(which='minor', axis='x', color=GRID, linewidth=0.65)
    ax.set_axisbelow(True)
    for s in ax.spines.values():
        s.set_visible(False)
    ax.tick_params(which='both', length=0)
    if rotate:
        ax.set_xticklabels(labels, rotation=30, ha='center', va='top', fontsize=7.8, color=TICKC)
        ax.tick_params(axis='x', pad=2)
    else:
        ax.set_xticklabels(labels, fontsize=8.8, color=TICKC)
        ax.tick_params(axis='x', pad=5)


def fix_limits(ax, xlim):
    ax.set_xlim(*xlim)
    ax.set_ylim(0.4, 2.6)


ROW_SCALES = [
    [((-0.00021, 0.00421), UREA_TICKS, UREA_LABELS)] * 3,
    [((-0.0021, 0.0421), BS_TICKS, BS_LABELS)] * 3,
    [((0.00094, 0.00231), BM_L_TICKS, BM_L_LABELS)] * 4 + [((0.00902, 0.03078), BM_R_TICKS, BM_R_LABELS)] * 3,
]

axes_map = {}
for p_i, panel in enumerate(['A', 'B']):
    fig.text(13 / W, 1 - TITLE_Y[panel] / H, PANEL_TAGS[p_i], fontsize=17, ha='left', va='center', color='black')
    fig.text(560 / W, 1 - TITLE_Y[panel] / H, PANEL_TITLES[p_i], fontsize=18.5, ha='center', va='center',
             color='black')
    for r_i, row in enumerate(PANELS[panel]):
        y0, y1 = ROW_Y[panel][r_i]
        cols = COLS3 if len(row) == 3 else COLS7
        names = FACETS_3 if len(row) == 3 else FACETS_7
        fig.text(21 / W, 1 - ((y0 + y1) / 2) / H, ROW_NAMES[r_i], rotation=90, fontsize=15,
                 ha='center', va='center', color=TXT)
        for f_i, (no, no_box, ob, ob_box) in enumerate(row):
            x0, x1 = cols[f_i]
            ax = add_ax(x0, y0, x1, y1)
            xlim, ticks, labels = ROW_SCALES[r_i][f_i]
            style_ax(ax, ticks, labels, rotate=(r_i == 2))
            draw_group(ax, no, no_box, 1, RED)
            draw_group(ax, ob, ob_box, 2, TEAL)
            fix_limits(ax, xlim)
            fig.text(((x0 + x1) / 2) / W, 1 - (y0 - 20) / H, names[f_i], fontsize=13,
                     ha='center', va='center', color=TXT)
            axes_map[(panel, r_i, f_i)] = ax

for panel, r_i, f_i, xv in SIG_MARKS:
    axes_map[(panel, r_i, f_i)].text(xv, 1.5, '*', fontsize=7, ha='center', va='center',
                                     clip_on=False, color=TXT)

# ---------------- legend ----------------
lax = fig.add_axes([0, 0, 1, 1], zorder=-1)
lax.set_xlim(0, W)
lax.set_ylim(H, 0)
lax.axis('off')
LEG_Y = 1501
lax.text(368, LEG_Y, LEGEND_TITLE, fontsize=15, ha='left', va='center', color='black')
for cx, tx, col, lab in [(488, 511, RED, GROUPS[0]), (630, 654, TEAL, GROUPS[1])]:
    bw, bh = 25, 20
    lax.add_line(Line2D([cx, cx], [LEG_Y - 14, LEG_Y + 14], color=col, lw=BOX_LW))
    lax.add_patch(Rectangle((cx - bw / 2, LEG_Y - bh / 2), bw, bh, facecolor='white', edgecolor=col,
                            lw=BOX_LW, zorder=2))
    lax.add_line(Line2D([cx - bw / 2, cx + bw / 2], [LEG_Y, LEG_Y], color=col, lw=MED_LW, zorder=3,
                        solid_capstyle='butt'))
    lax.scatter([cx], [LEG_Y], s=PT_SIZE, color=col, alpha=PT_ALPHA, linewidths=0, zorder=4)
    lax.text(tx, LEG_Y, lab, fontsize=14, ha='left', va='center', color=TXT)

fig.savefig('out.png', dpi=100, facecolor='white')
